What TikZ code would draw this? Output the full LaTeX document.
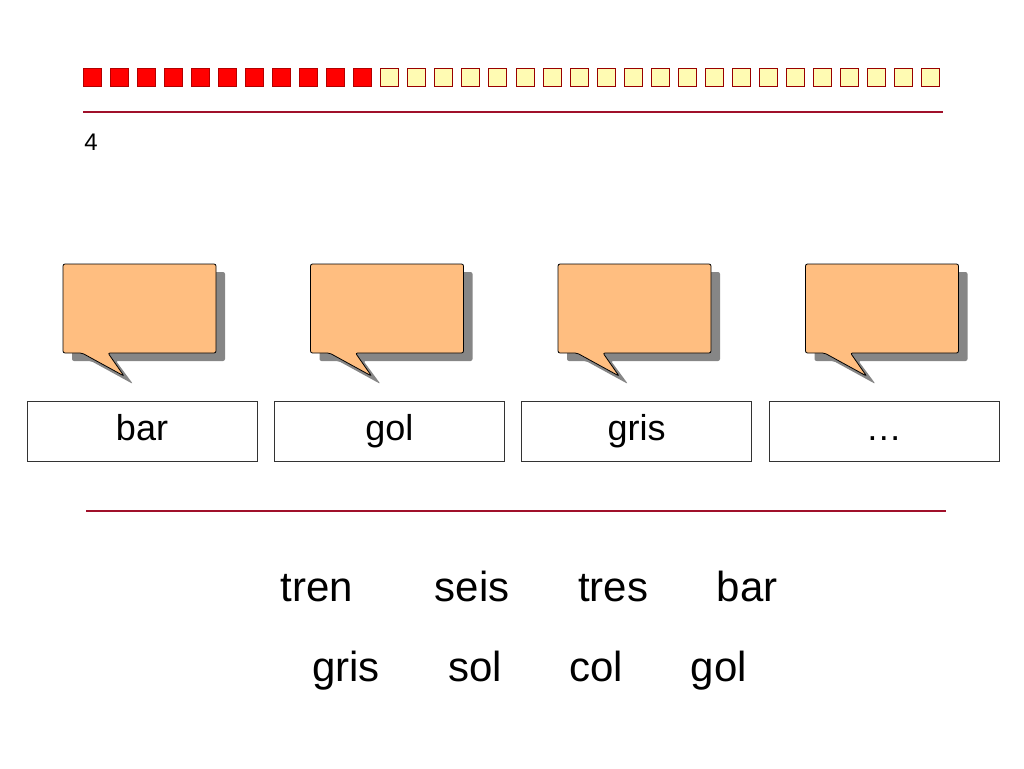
\documentclass[tikz,border=0pt]{standalone}
\usepackage{fontspec}
\setmainfont{Liberation Sans}
\begin{document}
\begin{tikzpicture}[x=1pt,y=-1pt,
  redsq/.style={fill=red,draw=red!70!black,line width=0.6pt},
  yelsq/.style={fill=yellow!30,draw=red!60!black,line width=0.6pt},
  rule/.style={draw={rgb,255:red,160;green,16;blue,42},line width=2.5pt},
  bubble/.style={fill={rgb,255:red,255;green,190;blue,128},draw=black,line width=0.8pt,rounded corners=2pt},
  shadow/.style={fill=gray!95},
  lbl/.style={draw=black!80,line width=0.6pt,minimum width=230pt,minimum height=60pt,inner sep=0pt,text height=26pt,text depth=7pt,font=\fontsize{36}{40}\selectfont},
  word/.style={inner sep=0pt,text height=30pt,text depth=8pt,font=\fontsize{42}{48}\selectfont}]
\useasboundingbox (0,0) rectangle (1024,768);
\foreach \i in {0,...,31}{
  \pgfmathsetmacro{\xx}{83+27.05*\i}
  \ifnum\i<11 \path[redsq] (\xx,68) rectangle ++(18,18);
  \else \path[yelsq] (\xx,68) rectangle ++(18,18); \fi
}
\draw[rule] (83,112) -- (943,112);
\node[inner sep=0pt,font=\fontsize{24}{26}\selectfont] (num) at (91,142) {4};
\foreach \k/\t in {0/bar,1/gol,2/gris,3/\dots}{
  \pgfmathsetmacro{\ox}{63+247.5*\k}
  \begin{scope}[shift={(\ox,264)}]
    \path[shadow,rounded corners=2pt] (9,8) -- (162,8) -- (162,97) -- (53,97) -- (70,120) -- (28,97) -- (9,97) -- cycle;
    \path[bubble] (0,0) -- (153,0) -- (153,89) -- (45,89) -- (61,112) -- (19,89) -- (0,89) -- cycle;
  \end{scope}
  \pgfmathsetmacro{\lx}{142+247.3*\k}
  \node[lbl] (l\k) at (\lx,431) {\t};
}
\draw[rule] (86,511) -- (946,511);
\node[word] (w1) at (317,590) {tren};
\node[word] (w2) at (472,590) {seis};
\node[word] (w3) at (613,590) {tres};
\node[word] (w4) at (747,590) {bar};
\node[word] (w5) at (346,670) {gris};
\node[word] (w6) at (475,670) {sol};
\node[word] (w7) at (596,670) {col};
\node[word] (w8) at (719,670) {gol};
\end{tikzpicture}
\end{document}
